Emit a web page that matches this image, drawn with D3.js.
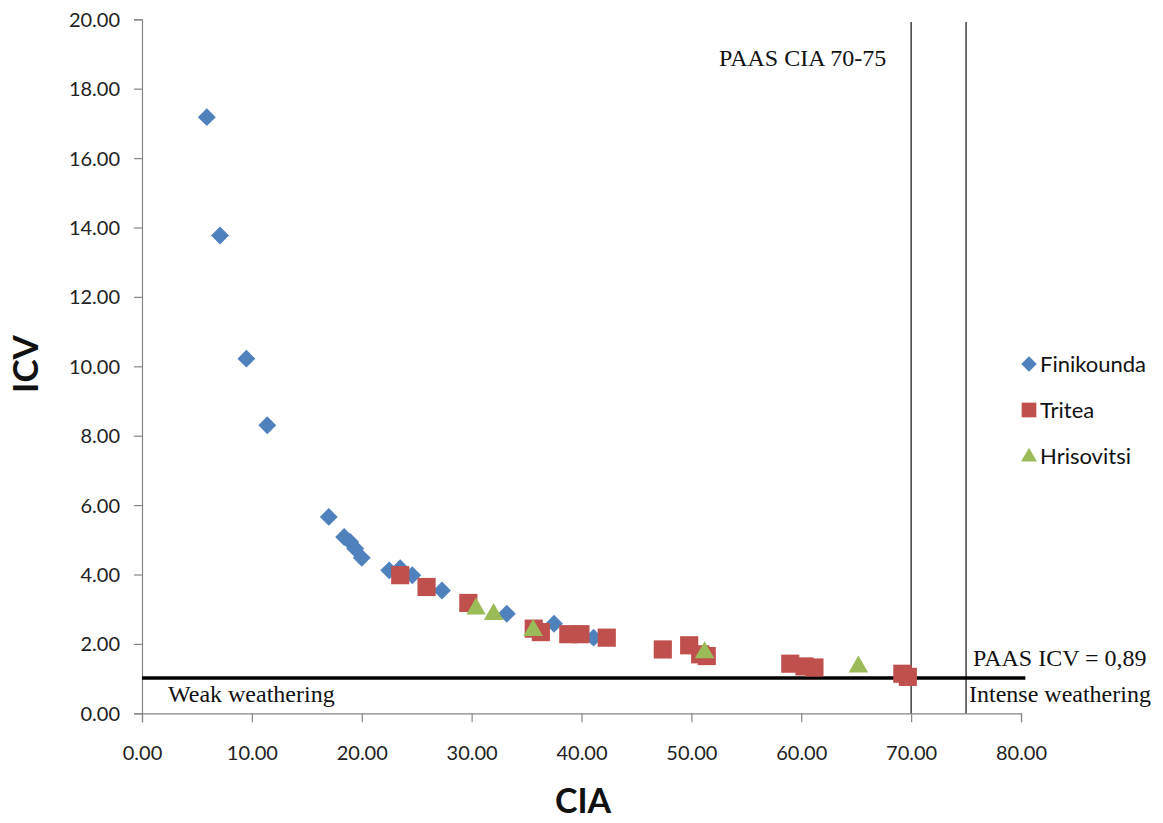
<!DOCTYPE html>
<html>
<head>
<meta charset="utf-8">
<script src="https://cdn.jsdelivr.net/npm/d3@7"></script>
<style>
html,body{margin:0;padding:0;background:#fff;}
</style>
</head>
<body>
<svg id="chart" width="1163" height="823"></svg>
<script>
const xTicks = [0,10,20,30,40,50,60,70,80];
const yTicks = [0,2,4,6,8,10,12,14,16,18,20];
const seriesNames = ["Finikounda","Tritea","Hrisovitsi"];
const finikoundaCIA = [5.9,7.1,9.5,11.4,17.0,18.4,18.95,19.4,20.0,22.5,23.5,24.6,27.3,33.2,37.5,41.1];
const finikoundaICV = [17.18,13.77,10.22,8.30,5.66,5.08,4.94,4.75,4.48,4.12,4.18,3.98,3.54,2.87,2.58,2.18];
const triteaCIA = [23.5,25.9,29.7,35.65,36.3,38.8,39.9,42.3,47.4,49.8,50.8,51.4,59.0,60.3,61.2,69.2,69.7];
const triteaICV = [3.98,3.64,3.18,2.44,2.34,2.28,2.28,2.18,1.84,1.96,1.70,1.65,1.43,1.35,1.32,1.14,1.05];
const hrisovitsiCIA = [30.4,32.0,35.6,51.2,65.2];
const hrisovitsiICV = [3.04,2.88,2.42,1.78,1.37];
const paasCIA = [70,75];
const paasICVLine = 1.02;

const colors = ["#4F81BD","#C0504D","#9BBB59"];
const svg = d3.select("#chart");
const x = d3.scaleLinear().domain([0,80]).range([142,1021]);
const y = d3.scaleLinear().domain([0,20]).range([713.3,19.3]);
const labelFont = "Lato, 'Open Sans', sans-serif";
const serif = "'Liberation Serif', 'DejaVu Serif', serif";

// axes
const xAxis = svg.append("g").attr("transform","translate(0,"+y(0)+")")
  .call(d3.axisBottom(x).tickValues(xTicks).tickFormat(d3.format(".2f")).tickSizeOuter(0).tickSize(9).tickPadding(24));
const yAxis = svg.append("g").attr("transform","translate("+x(0)+",0)")
  .call(d3.axisLeft(y).tickValues(yTicks).tickFormat(d3.format(".2f")).tickSizeOuter(0).tickSize(8).tickPadding(14));
[xAxis,yAxis].forEach(g=>{
  g.select(".domain").attr("stroke","#868686").attr("stroke-width",1.2);
  g.selectAll(".tick line").attr("stroke","#868686").attr("stroke-width",1.2);
  g.selectAll(".tick text").attr("fill","#222").style("font-family",labelFont).style("font-size","20px");
});
yAxis.selectAll(".tick text").attr("dy","0.35em");

// reference lines
paasCIA.forEach(v=>{
  svg.append("line").attr("x1",x(v)).attr("x2",x(v)).attr("y1",y(19.92)).attr("y2",y(0))
    .attr("stroke","#222").attr("stroke-width",1.3);
});
svg.append("line").attr("x1",x(0)).attr("x2",x(80.4)).attr("y1",y(paasICVLine)).attr("y2",y(paasICVLine))
  .attr("stroke","#000").attr("stroke-width",3.5);

// markers
const diamond = d3.symbol().type(d3.symbolSquare).size(160);
const square = d3.symbol().type(d3.symbolSquare).size(330);
const triangle = d3.symbol().type(d3.symbolTriangle).size(165);

const fin = finikoundaCIA.map((c,i)=>({c, v:finikoundaICV[i]}));
const tri = triteaCIA.map((c,i)=>({c, v:triteaICV[i]}));
const hri = hrisovitsiCIA.map((c,i)=>({c, v:hrisovitsiICV[i]}));

svg.append("g").selectAll("path").data(fin).join("path")
  .attr("d",diamond).attr("fill",colors[0])
  .attr("transform",d=>"translate("+x(d.c)+","+y(d.v)+") rotate(45)");
svg.append("g").selectAll("path").data(tri).join("path")
  .attr("d",square).attr("fill",colors[1])
  .attr("transform",d=>"translate("+x(d.c)+","+y(d.v)+")");
svg.append("g").selectAll("path").data(hri).join("path")
  .attr("d",triangle).attr("fill",colors[2])
  .attr("transform",d=>"translate("+x(d.c)+","+(y(d.v)+1)+")");

// annotations
const ann = (t,xx,yy)=>svg.append("text").attr("x",xx).attr("y",yy).text(t)
  .attr("fill","#111").style("font-family",serif).style("font-size","24px");
ann("PAAS CIA 70-75",719,66);
ann("PAAS ICV = 0,89",973,666);
ann("Intense weathering",969,702);
ann("Weak weathering",168,702);

// axis titles
svg.append("text").attr("x",583).attr("y",813).attr("text-anchor","middle").text("CIA")
  .style("font-family",labelFont).style("font-weight","bold").style("font-size","34px").attr("fill","#111");
svg.append("text").attr("transform","translate(38,364) rotate(-90)").attr("text-anchor","middle").text("ICV")
  .style("font-family",labelFont).style("font-weight","bold").style("font-size","35px").attr("fill","#111");

// legend
const legY = [364,410,456];
const legSyms = [d3.symbol().type(d3.symbolSquare).size(120), d3.symbol().type(d3.symbolSquare).size(215), d3.symbol().type(d3.symbolTriangle).size(110)];
seriesNames.forEach((n,i)=>{
  svg.append("path").attr("d",legSyms[i]).attr("fill",colors[i])
    .attr("transform","translate(1029,"+(legY[i]+(i===2?1:0))+")"+(i===0?" rotate(45)":""));
  svg.append("text").attr("x",1040).attr("y",legY[i]).attr("dy","0.35em").text(n)
    .style("font-family",labelFont).style("font-size","22px").attr("fill","#111");
});
</script>
</body>
</html>
